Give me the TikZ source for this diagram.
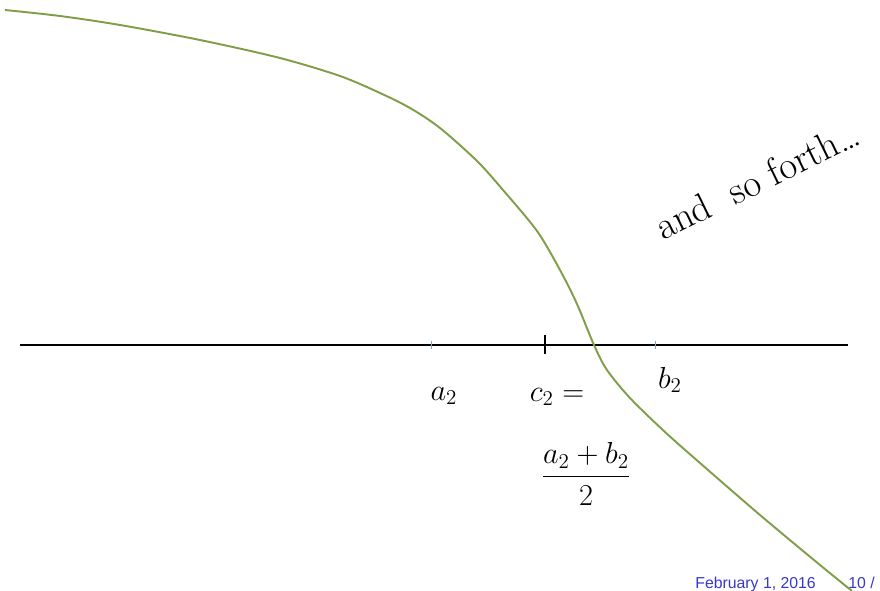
\documentclass[tikz,border=0pt]{standalone}
\usepackage{fontspec}
\usepackage{xcolor}
\usetikzlibrary{positioning, calc}
\newfontfamily\footfont{Liberation Sans}
\definecolor{curvegreen}{RGB}{128,158,72}
\definecolor{tickblue}{RGB}{140,165,185}
\definecolor{footblue}{RGB}{55,55,200}

\begin{document}
\begin{tikzpicture}[x=0.02cm, y=-0.02cm]
    % Define styles
    \tikzstyle{hand}=[inner sep=0pt, font=\LARGE]
    \tikzstyle{foot}=[inner sep=0pt, anchor=base west, font=\footfont\fontsize{9}{11}\selectfont, text=footblue]
    \tikzstyle{curve}=[curvegreen, line width=1.1pt]

    \useasboundingbox (0,0) rectangle (880,591);

    % Axis
    \coordinate (axl) at (20,345);
    \coordinate (axr) at (848,345);
    \draw[line width=0.9pt] (axl) -- (axr);

    % Ticks
    \coordinate (ta) at (431,345);
    \coordinate (tc) at (545,345);
    \coordinate (tb) at (655,345);
    \draw[tickblue, line width=0.5pt] ($(ta)+(0,-4)$) -- ($(ta)+(0,4)$);
    \draw[tickblue, line width=0.5pt] ($(tb)+(0,-4)$) -- ($(tb)+(0,4)$);
    \draw[line width=1.1pt] ($(tc)+(0,-10)$) -- ($(tc)+(0,9)$);

    % Function
    \draw[curve] plot[smooth, tension=0.5] coordinates {(5,10) (60,16) (120,25) (200,40) (280,58) (340,76) (380,93) (410,108) (440,128) (477,161) (503,190) (537,231) (560,270) (577,304) (594,345) (607,370) (630,398) (665,432) (700,463) (760,515) (820,565) (852,591)};

    % Labels
    \node[hand] (la) at (444,396) {$a_2$};
    \node[hand] (lc) at (557,397) {$c_2=$};
    \node[hand] (lb) at (670,380) {$b_2$};
    \node[hand] (lf) at (586,474) {$\displaystyle\frac{a_2+b_2}{2}$};
    \node[hand, rotate=26, font=\fontsize{22}{26}\selectfont] (more) at (757,180) {and \ so forth\dots};

    % Footer
    \node[foot] (date) at (695,588) {February 1, 2016};
    \node[foot] (page) at (848,588) {10 /};
\end{tikzpicture}
\end{document}
